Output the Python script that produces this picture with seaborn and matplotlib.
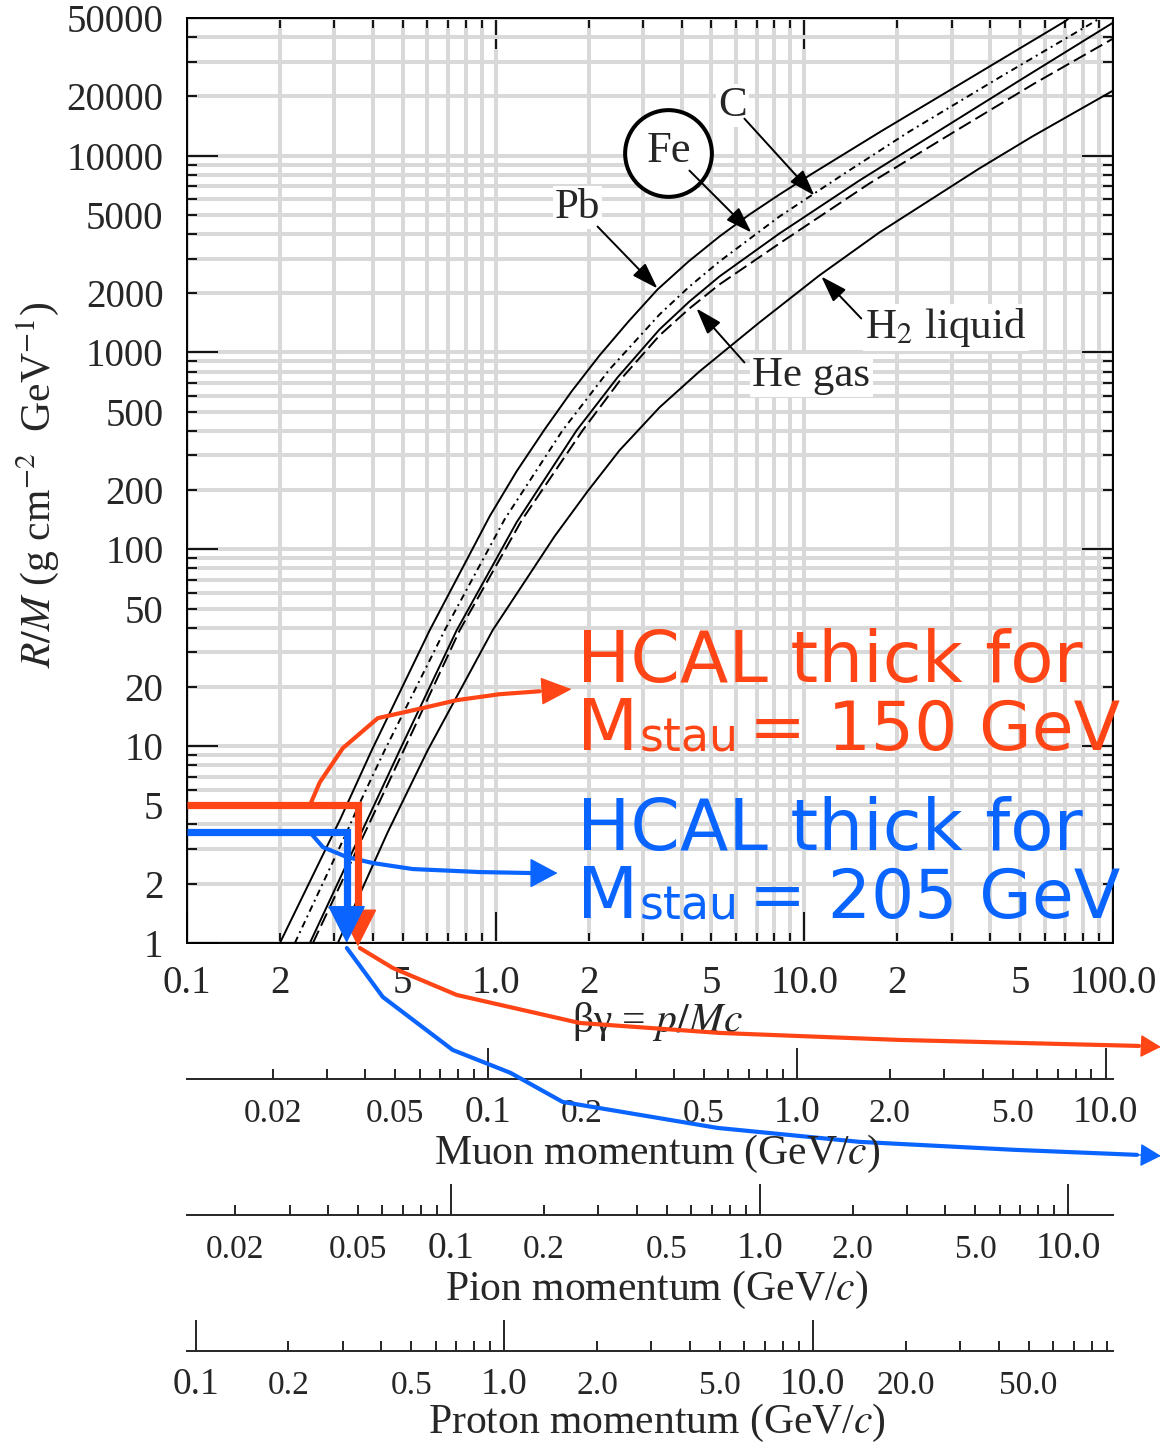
import matplotlib
matplotlib.use("Agg")
import matplotlib.pyplot as plt
from matplotlib.ticker import FixedLocator, FuncFormatter
import numpy as np
import pandas as pd
import seaborn as sns

# Range of heavy charged particles: beta*gamma vs R/M (g cm^-2 GeV^-1)
pb_bg = [0.2000, 0.3127, 0.3969, 0.6114, 0.9563, 1.169, 1.441, 1.762, 2.170, 2.694,
         3.344, 4.214, 5.307, 6.638, 8.300, 10.61, 17.88, 29.46, 70.46, 72.05]
pb_rm = [1.0, 4.211, 9.543, 38.80, 147.1, 248.9, 406.5, 634.0, 965.5, 1437,
         2088, 2897, 3880, 5018, 6339, 8102, 13394, 21380, 48452, 50000]
fe_bg = [0.2236, 0.3294, 0.3602, 0.4372, 0.6839, 1.069, 1.647, 2.338, 3.395, 4.245,
         5.307, 8.300, 13.48, 21.87, 42.76, 88.10, 90.10]
fe_rm = [1.0, 3.660, 5.018, 9.543, 38.80, 142.0, 401.8, 819.9, 1559, 2163,
         2897, 4901, 8102, 13239, 24885, 48452, 50000]
c_bg = [0.2501, 0.4890, 0.7477, 1.169, 1.829, 2.482, 3.395, 4.245, 5.307, 8.300,
        15.07, 27.35, 51.52, 100]
c_rm = [1.0, 9.543, 38.80, 137.1, 401.8, 746.6, 1309, 1816, 2431, 4018,
        7466, 13394, 24885, 47330]
he_bg = [0.2558, 0.5039, 0.7647, 1.214, 1.913, 2.557, 3.395, 4.245, 5.307, 8.300,
         16.23, 31.04, 55.52, 100]
he_rm = [1.0, 9.543, 38.80, 140.3, 401.8, 737.9, 1220, 1673, 2214, 3575,
         7210, 13394, 23203, 39264]
h2_bg = [0.3081, 0.4471, 0.6025, 0.9779, 1.552, 1.985, 2.519, 3.395, 4.574, 7.152,
         11.18, 17.49, 36.84, 54.70, 100]
h2_rm = [1.0, 3.660, 9.543, 38.80, 116.4, 197.0, 318.1, 525.8, 800.8, 1420,
         2460, 4066, 8591, 12488, 21380]

materials = ["Pb", "Fe", "C", "He gas", "H2 liquid"]
material_dashes = {"Pb": "", "Fe": (3.5, 2.2, 1.0, 2.2), "C": "",
                   "He gas": (7.0, 2.8), "H2 liquid": ""}

# Momentum scales (masses in GeV/c^2)
muon_mass = 0.10566
pion_mass = 0.13957
proton_mass = 0.93827
muon_labels = {0.02: "0.02", 0.05: "0.05", 0.1: "0.1", 0.2: "0.2", 0.5: "0.5",
               1.0: "1.0", 2.0: "2.0", 5.0: "5.0", 10.0: "10.0"}
pion_labels = {0.02: "0.02", 0.05: "0.05", 0.1: "0.1", 0.2: "0.2", 0.5: "0.5",
               1.0: "1.0", 2.0: "2.0", 5.0: "5.0", 10.0: "10.0"}
proton_labels = {0.1: "0.1", 0.2: "0.2", 0.5: "0.5", 1.0: "1.0", 2.0: "2.0",
                 5.0: "5.0", 10.0: "10.0", 20.0: "20.0", 50.0: "50.0"}
bg_labels = {0.1: "0.1", 0.2: "2", 0.5: "5", 1.0: "1.0", 2.0: "2", 5.0: "5",
             10.0: "10.0", 20.0: "2", 50.0: "5", 100.0: "100.0"}
rm_labels = {1: "1", 2: "2", 5: "5", 10: "10", 20: "20", 50: "50", 100: "100",
             200: "200", 500: "500", 1000: "1000", 2000: "2000", 5000: "5000",
             10000: "10000", 20000: "20000", 50000: "50000"}

# HCAL thickness expressed as R/M for two stau masses
hcal_thickness = 750.0  # g cm^-2
stau_masses = [150, 205]
hcal_rm = [hcal_thickness / m for m in stau_masses]
hcal_bg = [0.358, 0.329]
hcal_colors = ["#ff4516", "#0a64ff"]

# Guide curves (beta*gamma, R/M); the last point is the arrow tip
red_up_bg = [0.250, 0.2694, 0.3198, 0.4150, 0.5978, 0.7477, 1.030, 1.388, 1.762]
red_up_rm = [5.0, 6.56, 9.77, 13.87, 15.78, 17.12, 18.36, 19.0, 19.47]
red_low_bg = [0.3630, 0.4642, 0.7477, 1.870, 5.307, 20.29, 121.4, 143.0]
red_low_rm = [0.943, 0.7466, 0.5446, 0.3925, 0.3493, 0.3218, 0.3000, 0.2965]
blue_up_bg = [0.250, 0.2755, 0.3295, 0.3998, 0.5386, 0.8875, 1.317, 1.587]
blue_up_rm = [3.66, 3.07, 2.733, 2.548, 2.375, 2.293, 2.266, 2.266]
blue_low_bg = [0.3295, 0.4308, 0.7257, 1.118, 1.647, 5.228, 15.07, 47.82, 119.6, 143.0]
blue_low_rm = [0.943, 0.532, 0.2862, 0.2188, 0.1559, 0.1150, 0.0977, 0.0890, 0.0839, 0.0829]

W, H, DPI = 1160, 1443, 100


def fx(px):
    return px / W


def fy(py):
    return 1 - py / H


sns.set_style("white")
plt.rcParams["font.family"] = ["Liberation Serif", "DejaVu Serif"]
plt.rcParams["mathtext.fontset"] = "stix"

fig = plt.figure(figsize=(W / DPI, H / DPI), dpi=DPI, facecolor="white")
ax = fig.add_axes([fx(187), fy(943), fx(1113) - fx(187), fy(18) - fy(943)])
ax.set_zorder(3)


def lookup(table):
    def fmt(v, pos):
        for key, text in table.items():
            if abs(np.log10(v) - np.log10(key)) < 1e-6:
                return text
        return ""
    return FuncFormatter(fmt)


def decade_ticks(lo, hi):
    major = [10.0 ** k for k in range(int(np.floor(np.log10(lo))), int(np.ceil(np.log10(hi))) + 1)]
    minor = [m * d for d in major for m in range(2, 10)]
    major = [v for v in major if lo * 0.999 <= v <= hi * 1.001]
    minor = [v for v in minor if lo * 0.999 <= v <= hi * 1.001]
    return major, minor


# range curves
frames = []
for name, bg, rm in zip(materials, [pb_bg, fe_bg, c_bg, he_bg, h2_bg],
                        [pb_rm, fe_rm, c_rm, he_rm, h2_rm]):
    frames.append(pd.DataFrame({"bg": bg, "rm": rm, "material": name}))
df = pd.concat(frames, ignore_index=True)
sns.lineplot(data=df, x="bg", y="rm", hue="material", style="material",
             palette={m: "black" for m in materials}, dashes=material_dashes,
             linewidth=1.4, estimator=None, legend=False, ax=ax, zorder=3)

ax.set_xscale("log")
ax.set_yscale("log")
ax.set_xlim(0.1, 100)
ax.set_ylim(1, 50000)
ax.set_xlabel("")
ax.set_ylabel("")

xmaj, xmin = decade_ticks(0.1, 100)
ymaj, ymin = decade_ticks(1, 50000)
ax.xaxis.set_major_locator(FixedLocator(xmaj))
ax.xaxis.set_minor_locator(FixedLocator(xmin))
ax.yaxis.set_major_locator(FixedLocator(ymaj))
ax.yaxis.set_minor_locator(FixedLocator(ymin))
for axis, table in ((ax.xaxis, bg_labels), (ax.yaxis, rm_labels)):
    axis.set_major_formatter(lookup(table))
    axis.set_minor_formatter(lookup(table))
ax.tick_params(which="both", direction="in", top=True, right=True, bottom=True,
               left=True, width=1.3, labelsize=28, color="black")
ax.tick_params(which="major", length=22)
ax.tick_params(which="minor", length=7)
ax.tick_params(axis="x", which="both", pad=16)
ax.tick_params(axis="y", which="both", pad=17)
ax.grid(True, which="both", color="#d9d9d9", linewidth=2.9)
ax.set_axisbelow(True)
for sp in ax.spines.values():
    sp.set_linewidth(1.4)
    sp.set_color("black")

ax.text(-0.161, 0.495, r"$R/M$ (g cm$^{-2}$  GeV$^{-1}$)", transform=ax.transAxes,
        rotation=90, ha="center", va="center", fontsize=30)
ax.text(0.5076, -0.0854, r"βγ = $p/Mc$", transform=ax.transAxes,
        ha="center", va="center", fontsize=30, zorder=2)

# material labels and pointers
arrow_kw = dict(arrowstyle="-|>,head_length=0.9,head_width=0.3", color="black",
                lw=1.4, mutation_scale=18, shrinkA=0, shrinkB=0)
white_box = dict(facecolor="white", edgecolor="none", pad=1.5)
ax.scatter([3.63], [10356], s=3900, facecolors="white", edgecolors="black",
           linewidths=2.9, zorder=4)
ax.text(3.63, 10600, "Fe", ha="center", va="center", fontsize=32, zorder=5)
ax.annotate("", xy=(6.737, 4065), xytext=(4.244, 8393), arrowprops=arrow_kw, zorder=6)
ax.text(1.843, 5445, "Pb", ha="center", va="center", fontsize=31, bbox=white_box, zorder=5)
ax.annotate("", xy=(3.344, 2113), xytext=(2.138, 4362), arrowprops=arrow_kw, zorder=6)
ax.text(5.848, 17940, "C", ha="center", va="center", fontsize=31, bbox=white_box, zorder=5)
ax.annotate("", xy=(10.78, 6266), xytext=(6.395, 15410), arrowprops=arrow_kw, zorder=6)
ax.text(6.786, 764, "He gas", ha="left", va="center", fontsize=31, bbox=white_box, zorder=5)
ax.annotate("", xy=(4.472, 1673), xytext=(6.395, 889.6), arrowprops=arrow_kw, zorder=6)
ax.text(15.75, 1339, r"H$_2$ liquid", ha="left", va="center", fontsize=31,
        bbox=white_box, zorder=5)
ax.annotate("", xy=(11.35, 2431), xytext=(15.29, 1488), arrowprops=arrow_kw, zorder=6)


# HCAL guides
def head(tip, base, color, length, width):
    ax.annotate("", xy=tip, xytext=base, annotation_clip=False, zorder=12,
                arrowprops=dict(arrowstyle=f"-|>,head_length={length},head_width={width}",
                                color=color, lw=1, mutation_scale=20,
                                shrinkA=0, shrinkB=0))


guide_lw = 3.0
for bgs, rms, color, hl, hw in (
        (red_up_bg, red_up_rm, hcal_colors[0], 1.0, 0.45),
        (red_low_bg, red_low_rm, hcal_colors[0], 0.65, 0.36),
        (blue_up_bg, blue_up_rm, hcal_colors[1], 0.9, 0.48),
        (blue_low_bg, blue_low_rm, hcal_colors[1], 0.65, 0.36)):
    ax.plot(bgs[:-1], rms[:-1], color=color, lw=guide_lw, clip_on=False,
            zorder=10, solid_joinstyle="round")
    head((bgs[-1], rms[-1]), (bgs[-2], rms[-2]), color, hl, hw)

tip_rm = [0.96, 1.0]
for rm, bg, color, tip in zip(hcal_rm, hcal_bg, hcal_colors, tip_rm):
    ax.plot([0.1, bg, bg], [rm, rm, 1.3], color=color, lw=5.2, clip_on=False,
            zorder=11, solid_joinstyle="miter", solid_capstyle="butt")
    head((bg, tip), (bg, 1.6), color, 1.25, 0.63)

# HCAL text
text_kw = dict(family="DejaVu Sans", ha="left", va="baseline", zorder=20)
for color, mass, y1, y2 in ((hcal_colors[0], stau_masses[0], 682, 750),
                            (hcal_colors[1], stau_masses[1], 850, 918)):
    fig.text(fx(577), fy(y1), "HCAL thick for", color=color, fontsize=51, **text_kw)
    fig.text(fx(577), fy(y2), "M", color=color, fontsize=51, **text_kw)
    fig.text(fx(640), fy(y2 + 2), "stau", color=color, fontsize=33, **text_kw)
    fig.text(fx(749), fy(y2), f"= {mass} GeV", color=color, fontsize=49, **text_kw)


# momentum scales
def momentum_scale(py_line, mass, labels, title, title_baseline):
    sub = fig.add_axes([fx(187), fy(py_line), fx(1113) - fx(187), 0.03])
    lo, hi = 0.1 * mass, 100 * mass
    sub.set_xscale("log")
    sub.set_xlim(lo, hi)
    sub.set_ylim(0, 1)
    sub.patch.set_visible(False)
    for side in ("top", "left", "right"):
        sub.spines[side].set_visible(False)
    sub.spines["bottom"].set_linewidth(1.4)
    sub.yaxis.set_visible(False)
    major, minor = decade_ticks(lo, hi)
    sub.xaxis.set_major_locator(FixedLocator(major))
    sub.xaxis.set_minor_locator(FixedLocator(minor))
    sub.xaxis.set_major_formatter(lookup(labels))
    sub.xaxis.set_minor_formatter(lookup(labels))
    sub.tick_params(axis="x", which="both", bottom=True, top=False, direction="in",
                    width=1.2, color="black")
    sub.tick_params(axis="x", which="major", length=22, labelsize=27, pad=12)
    sub.tick_params(axis="x", which="minor", length=7, labelsize=24, pad=14)
    fig.text(fx(657), fy(title_baseline), title, ha="center", va="baseline", fontsize=30)


momentum_scale(1079, muon_mass, muon_labels, r"Muon momentum (GeV/$c$)", 1164)
momentum_scale(1215, pion_mass, pion_labels, r"Pion momentum (GeV/$c$)", 1300)
momentum_scale(1351, proton_mass, proton_labels, r"Proton momentum (GeV/$c$)", 1433)

fig.savefig("out.png", dpi=DPI, facecolor="white")
